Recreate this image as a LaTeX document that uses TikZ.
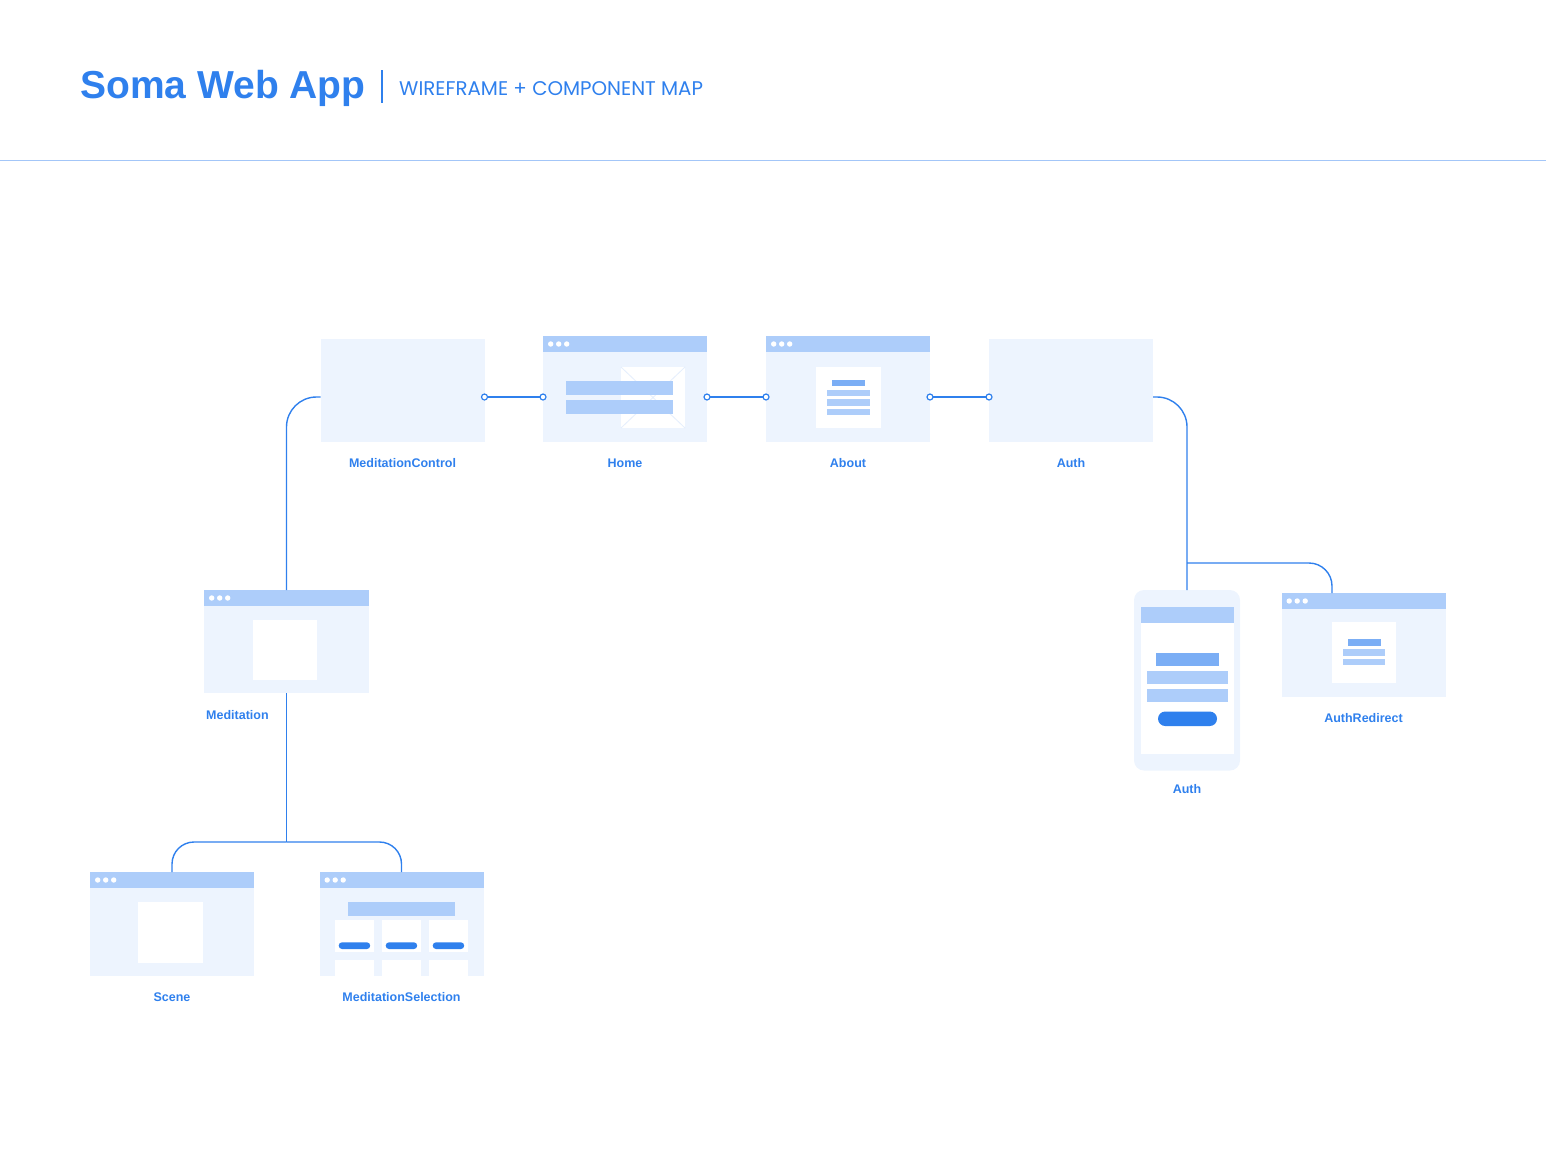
\documentclass[tikz,border=0pt]{standalone}
\usepackage{fontspec}
\newfontfamily\uisans{Liberation Sans}
\newfontfamily\capsfont{Poppins}
\usetikzlibrary{calc}

\definecolor{brand}{HTML}{2F80ED}
\definecolor{panelfill}{HTML}{EDF4FE}
\definecolor{hdrfill}{HTML}{ADCDFA}
\definecolor{darkbar}{HTML}{7BAEF5}
\definecolor{rulecol}{HTML}{A3C6F8}
\definecolor{faintline}{HTML}{E4EEFD}

\tikzset{
  panel/.style={fill=panelfill, draw=none, inner sep=0pt, outer sep=0pt, anchor=north west},
  hdr/.style={fill=hdrfill, draw=none, inner sep=0pt, outer sep=0pt, minimum height=16pt, anchor=north west},
  link/.style={draw=brand, line width=1.4pt},
  port/.style={draw=brand, line width=1.2pt, fill=white},
  lbl/.style={font=\uisans\bfseries\fontsize{12.5}{15}\selectfont, text=brand, inner sep=0pt},
}

% browser-style window: name, x, y, width, total height
\newcommand\winbox[5]{%
  \node[hdr, minimum width=#4pt] (#1-h) at (#2,#3) {};
  \node[panel, minimum width=#4pt, minimum height=#5pt-16pt] (#1) at (#1-h.south west) {};
  \foreach \d in {7.7,15.7,23.7} \fill[white] ([xshift=\d pt]#1-h.west) circle (2.7pt);
}

\begin{document}
\begin{tikzpicture}[x=1pt,y=-1pt]
\useasboundingbox (0,0) rectangle (1546,1154);

% ---- heading ----
\node[anchor=base west, inner sep=0pt, text=brand,
      font=\uisans\bfseries\fontsize{39}{44}\selectfont] (title) at (80,98) {Soma Web App};
\draw[brand, line width=1.6pt] (382,70) -- (382,103);
\node[anchor=base west, inner sep=0pt, text=brand,
      font=\capsfont\fontsize{19.8}{22}\selectfont] (subtitle) at (399,95) {WIREFRAME + COMPONENT MAP};
\draw[rulecol, line width=1pt] (0,160) -- (1546,160);

% ---- top row ----
\node[panel, minimum width=164pt, minimum height=103pt] (mc) at (320.5,339) {};
\winbox{home}{543}{336}{164}{106}
\winbox{about}{766}{336}{164}{106}
\node[panel, minimum width=164pt, minimum height=103pt] (authtop) at (989,339) {};

% home contents
\fill[white] (621,367) rectangle (685,428);
\draw[faintline, line width=0.8pt] (621,367) -- (685,428) (621,428) -- (685,367);
\fill[hdrfill] (566,381) rectangle (673,395);
\fill[hdrfill] (566,399.5) rectangle (673,413.5);

% about contents
\fill[white] (816,367) rectangle (881,428);
\fill[darkbar] (832,380) rectangle (865,386);
\fill[hdrfill] (827,389.5) rectangle (870,396);
\fill[hdrfill] (827,399) rectangle (870,405.5);
\fill[hdrfill] (827,409) rectangle (870,415);

\node[lbl] (mc-l) at ([yshift=-21.5pt]mc.south) {MeditationControl};
\node[lbl] (home-l) at ([yshift=-21.5pt]home.south) {Home};
\node[lbl] (about-l) at ([yshift=-21.5pt]about.south) {About};
\node[lbl] (authtop-l) at ([yshift=-21.5pt]authtop.south) {Auth};

% ---- meditation branch ----
\winbox{med}{204}{590}{165}{103}
\fill[white] (252.5,620) rectangle (317,680);
\node[lbl, anchor=west] (med-l) at (206,715) {Meditation};

\winbox{scene}{90}{872}{164}{104}
\fill[white] (138,902) rectangle (203,962.5);
\node[lbl] (scene-l) at ([yshift=-21pt]scene.south) {Scene};

\winbox{msel}{319.5}{872}{164}{104}
\fill[hdrfill] (348,902) rectangle (455,916);
\foreach \cx in {335,382,429}{
  \fill[white] (\cx,920) rectangle ++(38.7,32);
  \fill[white] (\cx,960) rectangle ++(38.7,16);
  \fill[brand, rounded corners=3.3pt] (\cx+3.7,942.3) rectangle ++(31.5,6.7);
}
\node[lbl] (msel-l) at ([yshift=-21pt]msel.south) {MeditationSelection};

% ---- auth branch ----
\node[fill=panelfill, rounded corners=10pt, inner sep=0pt, outer sep=0pt,
      minimum width=106pt, minimum height=180.5pt, anchor=north west] (phone) at (1134,590) {};
\node[fill=white, inner sep=0pt, outer sep=0pt, minimum width=93pt, minimum height=147pt,
      anchor=north] (screen) at ([yshift=-17pt]phone.north) {};
\fill[hdrfill] (screen.north west) rectangle ([yshift=-15.5pt]screen.north east);
\fill[darkbar] (1156,652.5) rectangle (1218.5,665.5);
\fill[hdrfill] (1147,671) rectangle (1227.5,684);
\fill[hdrfill] (1147,689) rectangle (1227.5,702);
\fill[brand, rounded corners=7.2pt] (1158,711.5) rectangle (1217,726);
\node[lbl] (phone-l) at ([yshift=-19pt]phone.south) {Auth};

\winbox{authr}{1281.5}{593}{164}{103.5}
\fill[white] (1331.5,622) rectangle (1396,682.5);
\fill[darkbar] (1348,639) rectangle (1381,646.3);
\fill[hdrfill] (1343,649) rectangle (1385.3,655.7);
\fill[hdrfill] (1343,658.5) rectangle (1385.3,665.3);
\node[lbl] (authr-l) at ([yshift=-21.5pt]authr.south) {AuthRedirect};

% ---- connectors ----
\draw[link] (mc.east |- home.west) -- (home.west);
\draw[link] (home.east) -- (about.west);
\draw[link] (about.east) -- (authtop.west |- about.east);
\foreach \p in {mc.east |- home.west, home.west, home.east, about.west, about.east, authtop.west |- about.east}
  \draw[port] (\p) circle (3pt);

\draw[link, rounded corners=30pt] (mc.west |- home.west) -| (med-h.north);
\coordinate (msplit) at (286.5,842);
\draw[link] (med.south) -- (msplit);
\draw[link, rounded corners=22pt] (msplit) -| (scene-h.north);
\draw[link, rounded corners=22pt] (msplit) -| (msel-h.north);

\draw[link, rounded corners=30pt] (authtop.east |- about.east) -| (phone.north);
\coordinate (asplit) at (1187,563);
\coordinate (authr-in) at ([xshift=-31.5pt]authr-h.north);
\draw[link, rounded corners=23pt] (asplit) -| (authr-in);
\end{tikzpicture}
\end{document}
